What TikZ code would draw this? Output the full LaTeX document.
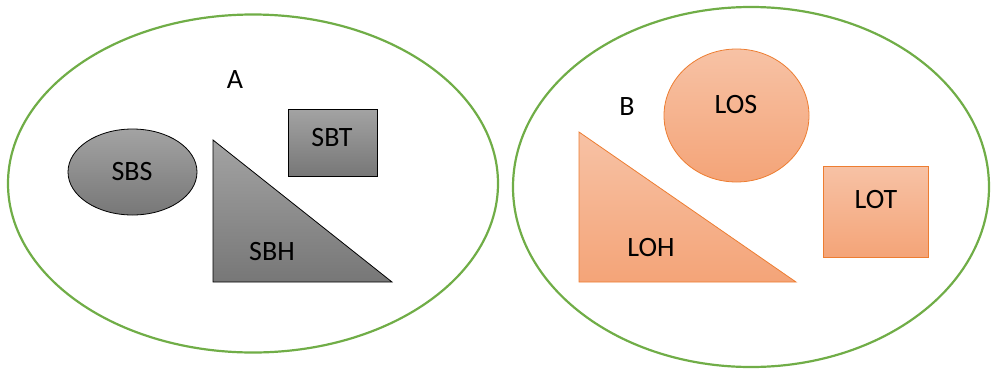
\documentclass[tikz,border=0pt]{standalone}
\usepackage{fontspec}
\setmainfont{Carlito}
\usetikzlibrary{shapes.geometric}
\definecolor{grn}{HTML}{70AD47}
\definecolor{org}{HTML}{ED7D31}
\definecolor{orgtop}{HTML}{F7C2A5}
\definecolor{orgbot}{HTML}{F4A478}
\definecolor{gtop}{HTML}{A3A3A3}
\definecolor{gbot}{HTML}{777777}
\tikzset{
  setell/.style={ellipse, draw=grn, line width=2.2pt, inner sep=0pt},
  grayshape/.style={draw=black, line width=0.8pt, top color=gtop, bottom color=gbot},
  orgshape/.style={draw=org, line width=0.8pt, top color=orgtop, bottom color=orgbot},
  lbl/.style={font=\fontsize{28}{32}\selectfont, inner sep=0pt}
}
\begin{document}
\begin{tikzpicture}[x=1pt,y=-1pt]
\useasboundingbox (0,0) rectangle (993,370);
% big sets
\node[setell, minimum width=490, minimum height=338] (A) at (253,183.5) {};
\node[setell, minimum width=476, minimum height=360] (B) at (751,187) {};
% set A contents
\node[ellipse, grayshape, minimum width=129, minimum height=86, inner sep=0pt] (sbs) at (132.5,172) {};
\node[rectangle, grayshape, minimum width=89, minimum height=67, inner sep=0pt] (sbt) at (332.5,142.5) {};
\draw[grayshape] (213,140) -- (213,282) -- (392,282) -- cycle;
\node[lbl] (la) at (235,80) {A};
\node[lbl] (tsbs) at (132,172) {SBS};
\node[lbl] (tsbt) at (332,138) {SBT};
\node[lbl] (tsbh) at (272,252) {SBH};
% set B contents
\node[ellipse, orgshape, minimum width=145, minimum height=133, inner sep=0pt] (los) at (736.5,115.5) {};
\node[rectangle, orgshape, minimum width=105, minimum height=91, inner sep=0pt] (lot) at (875.5,211.5) {};
\draw[orgshape] (579,132) -- (579,282) -- (796,282) -- cycle;
\node[lbl] (lb) at (627,107) {B};
\node[lbl] (tlos) at (736,105) {LOS};
\node[lbl] (tlot) at (876,200) {LOT};
\node[lbl] (tloh) at (651,248) {LOH};
\end{tikzpicture}
\end{document}
